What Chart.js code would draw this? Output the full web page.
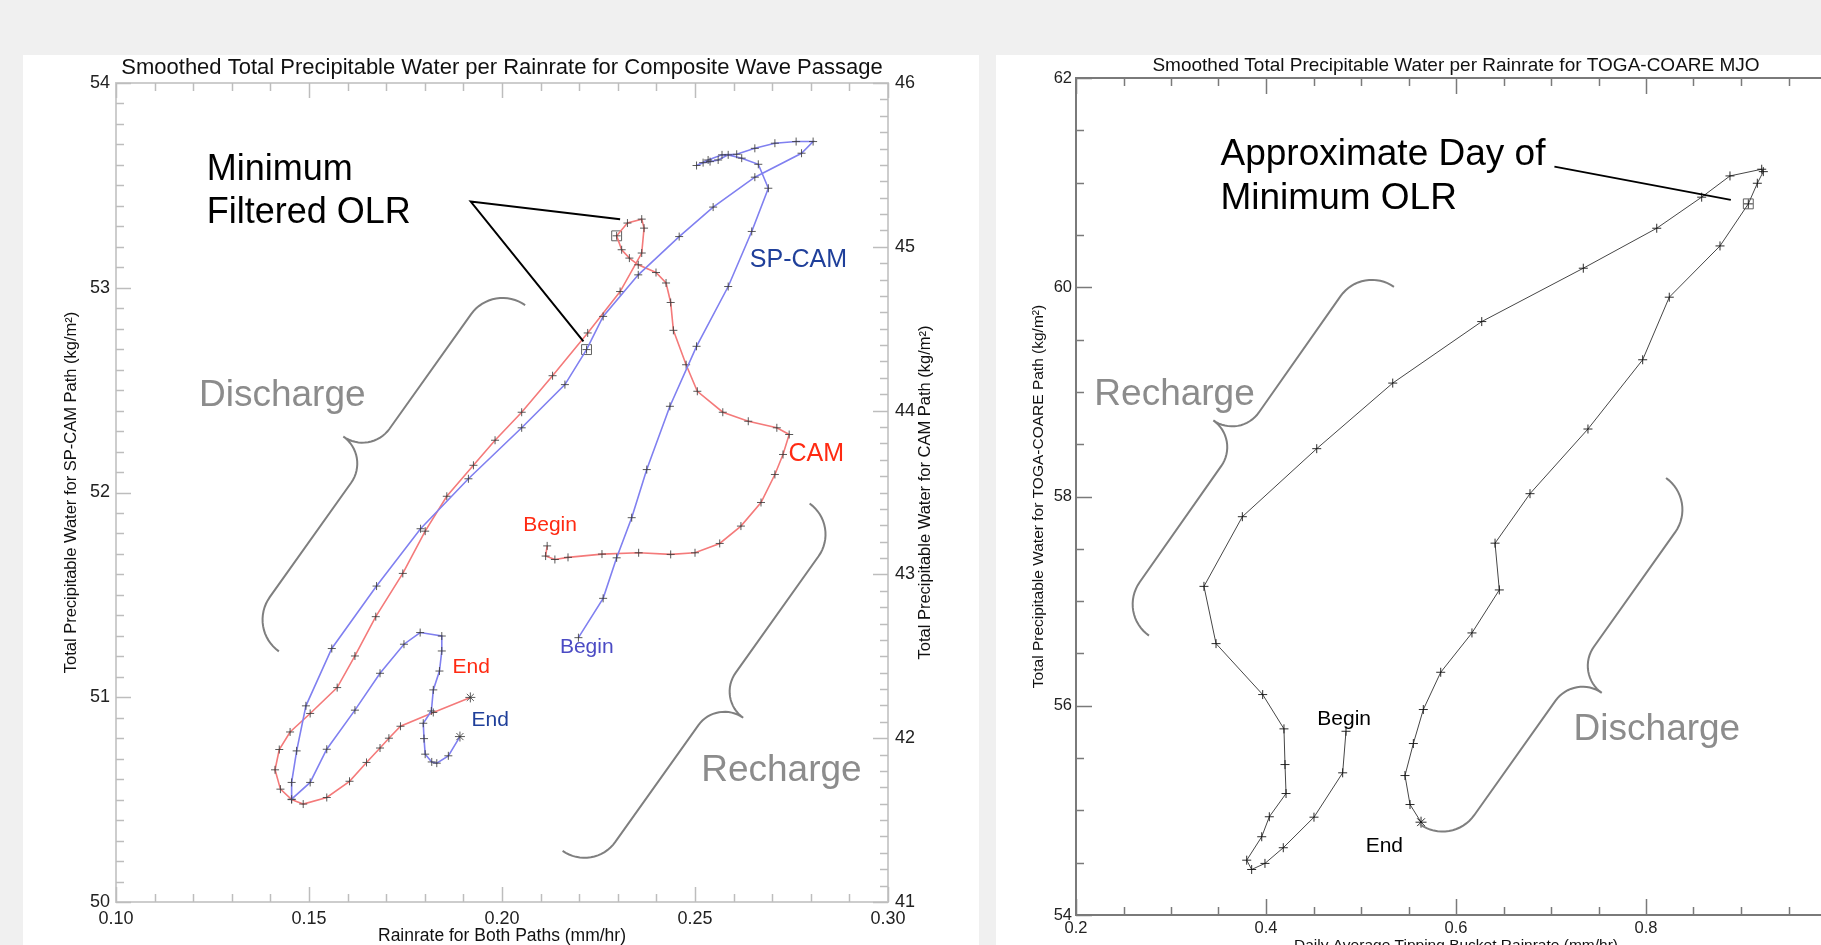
<!DOCTYPE html>
<html>
<head>
<meta charset="utf-8">
<script src="https://cdn.jsdelivr.net/npm/chart.js@4.4.1/dist/chart.umd.min.js"></script>
<style>
  html, body { margin: 0; padding: 0; width: 1821px; height: 945px; overflow: hidden; background: #f0f0f0; }
  .panel { position: absolute; background: #fff; }
  #leftPanel { left: 23px; top: 55px; width: 956px; height: 890px; }
  #rightPanel { left: 996px; top: 55px; width: 900px; height: 910px; }
</style>
</head>
<body>
<div class="panel" id="leftPanel"><canvas id="chartWave" width="956" height="890"></canvas></div>
<div class="panel" id="rightPanel"><canvas id="chartToga" width="900" height="910"></canvas></div>
<script>
// composite wave passage, SP-CAM path (left axis)
const spcamRain = [0.2198, 0.2262, 0.2297, 0.2336, 0.2375, 0.2435, 0.2504, 0.2586, 0.2647, 0.2690,
  0.2664, 0.2621, 0.2586, 0.2560, 0.2539, 0.2521, 0.2504, 0.2534, 0.2570, 0.2608,
  0.2655, 0.2707, 0.2762, 0.2806, 0.2776, 0.2655, 0.2547, 0.2459, 0.2353, 0.2262,
  0.2219, 0.2163, 0.2051, 0.1913, 0.1789, 0.1675, 0.1559, 0.1492, 0.1468, 0.1455,
  0.1455, 0.1503, 0.1546, 0.1619, 0.1684, 0.1746, 0.1788, 0.1844, 0.1844, 0.1838,
  0.1822, 0.1817, 0.1796, 0.1798, 0.1801, 0.1818, 0.1831, 0.1861, 0.1891];
const spcamTpw = [51.291, 51.483, 51.681, 51.877, 52.112, 52.421, 52.714, 53.006, 53.275, 53.486,
  53.603, 53.633, 53.649, 53.624, 53.616, 53.611, 53.597, 53.624, 53.649, 53.652,
  53.681, 53.706, 53.714, 53.714, 53.657, 53.540, 53.394, 53.250, 53.063, 52.860,
  52.698, 52.527, 52.316, 52.067, 51.823, 51.543, 51.238, 50.958, 50.738, 50.584,
  50.502, 50.584, 50.746, 50.937, 51.117, 51.259, 51.316, 51.299, 51.226, 51.128,
  51.036, 50.933, 50.873, 50.798, 50.722, 50.684, 50.678, 50.714, 50.808];
const spcamMinOlr = 30;

// composite wave passage, CAM path (right axis)
const camRain = [0.2117, 0.2113, 0.2137, 0.2171, 0.2259, 0.2354, 0.2437, 0.2500, 0.2564, 0.2619,
  0.2671, 0.2707, 0.2728, 0.2744, 0.2712, 0.2638, 0.2572, 0.2506, 0.2477, 0.2444,
  0.2437, 0.2425, 0.2399, 0.2353, 0.2330, 0.2310, 0.2297, 0.2325, 0.2362, 0.2368,
  0.2362, 0.2306, 0.2222, 0.2131, 0.2051, 0.1982, 0.1926, 0.1857, 0.1801, 0.1743,
  0.1673, 0.1619, 0.1573, 0.1503, 0.1451, 0.1423, 0.1412, 0.1426, 0.1455, 0.1485,
  0.1546, 0.1605, 0.1649, 0.1684, 0.1707, 0.1737, 0.1822, 0.1918];
const camTpw = [43.174, 43.112, 43.091, 43.104, 43.124, 43.132, 43.122, 43.132, 43.189, 43.295,
  43.439, 43.610, 43.732, 43.854, 43.895, 43.935, 43.990, 44.118, 44.280, 44.490,
  44.660, 44.779, 44.843, 44.890, 44.931, 44.982, 45.067, 45.145, 45.169, 45.114,
  44.962, 44.727, 44.474, 44.213, 43.990, 43.819, 43.666, 43.477, 43.264, 43.006,
  42.742, 42.502, 42.309, 42.151, 42.038, 41.931, 41.807, 41.689, 41.625, 41.598,
  41.638, 41.737, 41.852, 41.940, 42.000, 42.073, 42.157, 42.249];
const camMinOlr = 26;

// TOGA-COARE MJO
const togaRain = [0.4842, 0.4807, 0.4505, 0.4182, 0.3989, 0.3849, 0.3797, 0.3955, 0.4035, 0.4211,
  0.4200, 0.4189, 0.3965, 0.3474, 0.3347, 0.3751, 0.4534, 0.5334, 0.6271, 0.7340,
  0.8113, 0.8586, 0.8884, 0.9218, 0.9235, 0.9172, 0.9077, 0.8779, 0.8245, 0.7965,
  0.7389, 0.6779, 0.6411, 0.6456, 0.6168, 0.5839, 0.5656, 0.5551, 0.5463, 0.5516, 0.5632];
const togaTpw = [55.756, 55.359, 54.935, 54.643, 54.493, 54.435, 54.524, 54.748, 54.939, 55.161,
  55.438, 55.779, 56.107, 56.594, 57.141, 57.807, 58.457, 59.084, 59.672, 60.182,
  60.564, 60.861, 61.064, 61.128, 61.105, 60.994, 60.797, 60.395, 59.905, 59.307,
  58.645, 58.027, 57.554, 57.107, 56.696, 56.320, 55.964, 55.639, 55.333, 55.056, 54.887];
const togaMinOlr = 26;

const FONT = '"Liberation Sans", Arial, sans-serif';
Chart.defaults.font.family = FONT;
Chart.defaults.color = '#222';

const RED = '#ff2a12', DARKBLUE = '#1f3f9a', GRAY = '#8c8c8c';

function isMajor(v, step) {
  const r = v / step;
  return Math.abs(r - Math.round(r)) < 1e-6;
}

function pairs(xs, ys) {
  return xs.map((x, i) => ({ x: x, y: ys[i] }));
}

// "+" on every day, asterisk on the last one
function trackSet(label, xs, ys, yId, color, lineW, markColor, r) {
  const n = xs.length;
  return {
    label: label, data: pairs(xs, ys), yAxisID: yId, showLine: true,
    borderColor: color, borderWidth: lineW, tension: 0,
    pointStyle: c => c.dataIndex === n - 1 ? 'star' : 'cross',
    pointRadius: c => c.dataIndex === n - 1 ? r + 1 : r,
    pointBorderColor: markColor, pointBorderWidth: 1,
    pointBackgroundColor: 'transparent'
  };
}

function minOlrSet(xs, ys, i, yId) {
  return {
    label: 'min OLR', data: [{ x: xs[i], y: ys[i] }], yAxisID: yId, showLine: false,
    pointStyle: 'rect', pointRadius: 7, pointBorderColor: 'rgba(80,80,80,0.9)',
    pointBorderWidth: 1, pointBackgroundColor: 'transparent'
  };
}

// tick marks drawn inward from each axis
const innerTicks = {
  id: 'innerTicks',
  beforeDatasetsDraw(chart, args, o) {
    const ctx = chart.ctx, a = chart.chartArea;
    ctx.save();
    ctx.strokeStyle = o.color;
    ctx.lineWidth = o.width;
    Object.values(chart.scales).forEach(s => {
      const step = o.major[s.id];
      if (!step) return;
      s.ticks.forEach(t => {
        const p = Math.round(s.getPixelForValue(t.value)) + 0.5;
        const len = isMajor(t.value, step) ? o.long : o.short;
        ctx.beginPath();
        if (s.position === 'bottom') { ctx.moveTo(p, a.bottom); ctx.lineTo(p, a.bottom - len); }
        if (s.position === 'top') { ctx.moveTo(p, a.top); ctx.lineTo(p, a.top + len); }
        if (s.position === 'left') { ctx.moveTo(a.left, p); ctx.lineTo(a.left + len, p); }
        if (s.position === 'right') { ctx.moveTo(a.right, p); ctx.lineTo(a.right - len, p); }
        ctx.stroke();
      });
    });
    ctx.restore();
  }
};

function drawBrace(ctx, s, e, depth) {
  const L = Math.hypot(e[0] - s[0], e[1] - s[1]);
  const u = [(e[0] - s[0]) / L, (e[1] - s[1]) / L];
  const n = [-u[1], u[0]];
  const sg = Math.sign(depth), d = Math.abs(depth);
  const r1 = d * 0.54, r2 = d - r1;
  const pts = [];
  const arc = (ct, cs, R, a0, a1) => {
    for (let i = 0; i <= 16; i++) {
      const ang = a0 + (a1 - a0) * i / 16;
      pts.push([ct + R * Math.cos(ang), cs + R * Math.sin(ang)]);
    }
  };
  arc(r1, 0, r1, Math.PI, Math.PI / 2);
  arc(L / 2 - r2, r1 + r2, r2, -Math.PI / 2, 0);
  arc(L / 2 + r2, r1 + r2, r2, Math.PI, 1.5 * Math.PI);
  arc(L - r1, 0, r1, Math.PI / 2, 0);
  ctx.beginPath();
  pts.forEach((p, i) => {
    const x = s[0] + p[0] * u[0] + sg * p[1] * n[0];
    const y = s[1] + p[0] * u[1] + sg * p[1] * n[1];
    if (i) ctx.lineTo(x, y); else ctx.moveTo(x, y);
  });
  ctx.stroke();
}

// labels, braces and call-out lines, placed in data units
function makeNotes(notes) {
  return {
    id: 'notes',
    afterDatasetsDraw(chart) {
      const ctx = chart.ctx;
      const X = chart.scales.x, Y = chart.scales[notes.yAxis];
      const at = p => [X.getPixelForValue(p[0]), Y.getPixelForValue(p[1])];
      ctx.save();
      ctx.strokeStyle = '#7f7f7f';
      ctx.lineWidth = 2;
      notes.braces.forEach(b => drawBrace(ctx, at(b.from), at(b.to), b.depth));
      ctx.strokeStyle = '#000';
      ctx.lineWidth = 2;
      notes.lines.forEach(line => {
        ctx.beginPath();
        line.forEach((p, i) => {
          const q = at(p);
          if (i) ctx.lineTo(q[0], q[1]); else ctx.moveTo(q[0], q[1]);
        });
        ctx.stroke();
      });
      ctx.textBaseline = 'alphabetic';
      ctx.textAlign = 'left';
      notes.texts.forEach(t => {
        const q = at([t.x, t.y]);
        ctx.font = t.size + 'px ' + FONT;
        ctx.fillStyle = t.color;
        ctx.fillText(t.text, q[0], q[1]);
      });
      if (notes.sideTitle) {
        const st = notes.sideTitle, a = chart.chartArea;
        const sc = chart.scales[st.scale];
        ctx.translate(sc.left + st.offset, (a.top + a.bottom) / 2);
        ctx.rotate(-Math.PI / 2);
        ctx.textAlign = 'center';
        ctx.textBaseline = 'middle';
        ctx.font = st.size + 'px ' + FONT;
        ctx.fillStyle = '#111';
        ctx.fillText(st.text, 0, 0);
      }
      ctx.restore();
    }
  };
}

const waveNotes = {
  yAxis: 'y',
  braces: [
    { from: [0.2060, 52.915], to: [0.1422, 51.224], depth: 72 },
    { from: [0.2797, 51.946], to: [0.2157, 50.250], depth: -70 }
  ],
  lines: [[[0.2306, 53.335], [0.1919, 53.421], [0.2211, 52.738]]],
  texts: [
    { text: 'Minimum', x: 0.1235, y: 53.527, size: 36, color: '#000' },
    { text: 'Filtered OLR', x: 0.1235, y: 53.316, size: 36, color: '#000' },
    { text: 'Discharge', x: 0.1215, y: 52.421, size: 37, color: GRAY },
    { text: 'Recharge', x: 0.2516, y: 50.592, size: 37, color: GRAY },
    { text: 'SP-CAM', x: 0.2642, y: 53.099, size: 25, color: DARKBLUE },
    { text: 'CAM', x: 0.2742, y: 52.153, size: 25, color: RED },
    { text: 'Begin', x: 0.2055, y: 51.811, size: 21, color: RED },
    { text: 'Begin', x: 0.2150, y: 51.218, size: 21, color: '#4b4bc4' },
    { text: 'End', x: 0.1872, y: 51.120, size: 21, color: RED },
    { text: 'End', x: 0.1921, y: 50.860, size: 21, color: DARKBLUE }
  ],
  sideTitle: { text: 'Total Precipitable Water for CAM Path (kg/m²)', scale: 'yR', offset: 37, size: 16.5 }
};

const togaNotes = {
  yAxis: 'y',
  braces: [
    { from: [0.5347, 60.004], to: [0.2768, 56.670], depth: 71 },
    { from: [0.8211, 58.177], to: [0.5621, 54.866], depth: -72 }
  ],
  lines: [[[0.7036, 61.153], [0.8893, 60.835]]],
  texts: [
    { text: 'Approximate Day of', x: 0.3521, y: 61.169, size: 37, color: '#000' },
    { text: 'Minimum OLR', x: 0.3521, y: 60.749, size: 37, color: '#000' },
    { text: 'Recharge', x: 0.2193, y: 58.877, size: 37, color: GRAY },
    { text: 'Discharge', x: 0.7238, y: 55.677, size: 37, color: GRAY },
    { text: 'Begin', x: 0.4540, y: 55.820, size: 21, color: '#000' },
    { text: 'End', x: 0.5049, y: 54.605, size: 21, color: '#000' }
  ]
};

const noGrid = { display: false, drawTicks: false, tickLength: 0 };

// ---- left: composite wave passage ----
const waveBorder = { color: '#cdcdcd', width: 2 };
new Chart(document.getElementById('chartWave'), {
  type: 'scatter',
  data: {
    datasets: [
      trackSet('SP-CAM', spcamRain, spcamTpw, 'y', 'rgb(128,128,240)', 1.6, 'rgba(60,60,60,0.85)', 4),
      trackSet('CAM', camRain, camTpw, 'yR', 'rgb(244,122,122)', 1.6, 'rgba(60,60,60,0.85)', 4),
      minOlrSet(spcamRain, spcamTpw, spcamMinOlr, 'y'),
      minOlrSet(camRain, camTpw, camMinOlr, 'yR')
    ]
  },
  options: {
    responsive: false,
    animation: false,
    events: [],
    layout: { padding: 0 },
    plugins: {
      legend: { display: false },
      tooltip: { enabled: false },
      innerTicks: { color: '#bdbdbd', width: 1.5, long: 15, short: 8, major: { x: 0.05, xTop: 0.05, y: 1, yR: 1 } }
    },
    scales: {
      x: {
        type: 'linear', position: 'bottom', min: 0.10, max: 0.30,
        afterFit: s => { s.height = 43; },
        grid: noGrid, border: waveBorder,
        ticks: { stepSize: 0.01, autoSkip: false, maxRotation: 0, padding: 6, font: { size: 18 }, color: '#222',
          callback: v => isMajor(v, 0.05) ? v.toFixed(2) : '' },
        title: { display: true, text: 'Rainrate for Both Paths (mm/hr)', color: '#111',
          font: { size: 17.5, lineHeight: 1 }, padding: { top: 0, bottom: 0 } }
      },
      xTop: {
        type: 'linear', position: 'top', min: 0.10, max: 0.30,
        afterFit: s => { s.height = 28; },
        grid: noGrid, border: waveBorder,
        ticks: { display: false, stepSize: 0.01, autoSkip: false },
        title: { display: true, text: 'Smoothed Total Precipitable Water per Rainrate for Composite Wave Passage',
          color: '#111', font: { size: 22, lineHeight: 1 }, padding: { top: 2, bottom: 0 } }
      },
      y: {
        type: 'linear', position: 'left', min: 50, max: 54,
        afterFit: s => { s.width = 93; },
        grid: noGrid, border: waveBorder,
        ticks: { stepSize: 0.1, autoSkip: false, padding: 6, font: { size: 18 }, color: '#222',
          callback: v => isMajor(v, 1) ? String(Math.round(v)) : '' },
        title: { display: true, text: 'Total Precipitable Water for SP-CAM Path (kg/m²)', color: '#111',
          font: { size: 16.5, lineHeight: 1 }, padding: { top: 40, bottom: 0 } }
      },
      yR: {
        type: 'linear', position: 'right', min: 41, max: 46,
        afterFit: s => { s.width = 91; },
        grid: noGrid, border: waveBorder,
        ticks: { stepSize: 0.1, autoSkip: false, padding: 7, font: { size: 18 }, color: '#222',
          callback: v => isMajor(v, 1) ? String(Math.round(v)) : '' }
      }
    }
  },
  plugins: [innerTicks, makeNotes(waveNotes)]
});

// ---- right: TOGA-COARE MJO ----
const togaBorder = { color: '#7a7a7a', width: 2 };
new Chart(document.getElementById('chartToga'), {
  type: 'scatter',
  data: {
    datasets: [
      trackSet('TOGA-COARE', togaRain, togaTpw, 'y', 'rgb(70,70,70)', 1, 'rgba(20,20,20,0.9)', 4.5),
      minOlrSet(togaRain, togaTpw, togaMinOlr, 'y')
    ]
  },
  options: {
    responsive: false,
    animation: false,
    events: [],
    layout: { padding: { right: 60 } },
    plugins: {
      legend: { display: false },
      tooltip: { enabled: false },
      innerTicks: { color: '#7a7a7a', width: 1.5, long: 16, short: 8, major: { x: 0.2, xTop: 0.2, y: 2 } }
    },
    scales: {
      x: {
        type: 'linear', position: 'bottom', min: 0.2, max: 1.0,
        afterFit: s => { s.height = 50; },
        grid: noGrid, border: togaBorder,
        ticks: { stepSize: 0.05, autoSkip: false, maxRotation: 0, padding: 4, font: { size: 16.5 }, color: '#222',
          callback: v => isMajor(v, 0.2) ? v.toFixed(1) : '' },
        title: { display: true, text: 'Daily Average Tipping Bucket Rainrate (mm/hr)', color: '#111',
          font: { size: 15.5, lineHeight: 1 }, padding: { top: 0, bottom: 12 } }
      },
      xTop: {
        type: 'linear', position: 'top', min: 0.2, max: 1.0,
        afterFit: s => { s.height = 23; },
        grid: noGrid, border: togaBorder,
        ticks: { display: false, stepSize: 0.05, autoSkip: false },
        title: { display: true, text: 'Smoothed Total Precipitable Water per Rainrate for TOGA-COARE MJO',
          color: '#111', font: { size: 19, lineHeight: 1 }, padding: { top: 1, bottom: 0 } }
      },
      y: {
        type: 'linear', position: 'left', min: 54, max: 62,
        afterFit: s => { s.width = 80; },
        grid: noGrid, border: togaBorder,
        ticks: { stepSize: 0.5, autoSkip: false, padding: 4, font: { size: 16.5 }, color: '#222',
          callback: v => isMajor(v, 2) ? String(Math.round(v)) : '' },
        title: { display: true, text: 'Total Precipitable Water for TOGA-COARE Path (kg/m²)', color: '#111',
          font: { size: 15.5, lineHeight: 1 }, padding: { top: 35, bottom: 0 } }
      }
    }
  },
  plugins: [innerTicks, makeNotes(togaNotes)]
});
</script>
</body>
</html>
